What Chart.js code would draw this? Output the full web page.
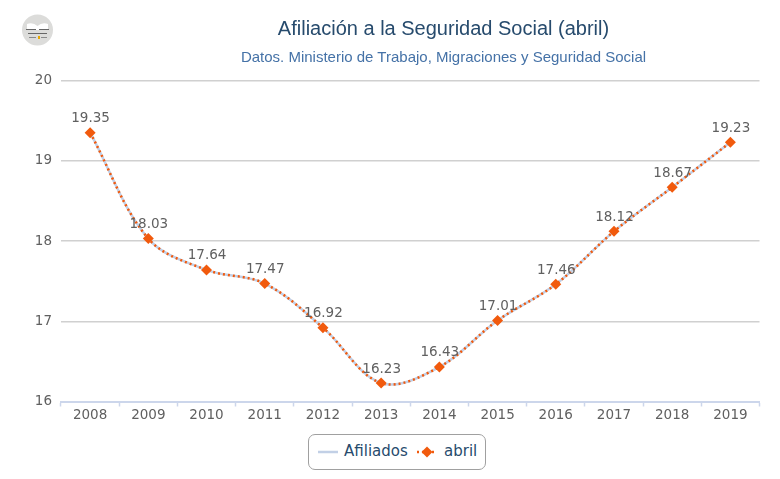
<!DOCTYPE html>
<html>
<head>
<meta charset="utf-8">
<title>Afiliación a la Seguridad Social (abril)</title>
<script src="https://cdn.jsdelivr.net/npm/chart.js@4/dist/chart.umd.min.js"></script>
<style>
  body { margin: 0; background: #fff; }
  #wrap { position: relative; width: 780px; height: 479px; overflow: hidden; }
  #wrap canvas { position: absolute; left: 0; top: 0; }
  .titulo { position: absolute; left: 0; width: 887px; text-align: center; font-family: "Liberation Sans", Arial, sans-serif; white-space: nowrap; }
  #t1 { top: 17px; font-size: 20px; color: #274b6d; }
  #t2 { top: 48px; font-size: 15px; color: #4572a7; }
  #leyenda { position: absolute; left: 308px; top: 434px; width: 176px; height: 34px; border: 1.5px solid #a0a0a0; border-radius: 7px; background: #fff;
    font: 15px "DejaVu Sans", sans-serif; color: #274b6d; }
  #leyenda svg { position: absolute; left: 0; top: 0; }
  #leyenda span { position: absolute; top: 7px; }
</style>
</head>
<body>
<div id="wrap">
  <canvas id="grafico" width="780" height="479"></canvas>
  <div class="titulo" id="t1">Afiliación a la Seguridad Social (abril)</div>
  <div class="titulo" id="t2">Datos. Ministerio de Trabajo, Migraciones y Seguridad Social</div>
  <div id="leyenda">
    <svg width="176" height="34">
      <line x1="9" y1="17" x2="29" y2="17" stroke="#c2d0e6" stroke-width="2.5"/>
      <line x1="108" y1="17" x2="128" y2="17" stroke="#f15a0d" stroke-width="2.5" stroke-dasharray="2,3"/>
      <path d="M118 11.5 L123.5 17 L118 22.5 L112.5 17 Z" fill="#f15a0d"/>
    </svg>
    <span style="left:35px">Afiliados</span>
    <span style="left:135px">abril</span>
  </div>
</div>
<script>
// Datos
var anios = ['2008', '2009', '2010', '2011', '2012', '2013', '2014', '2015', '2016', '2017', '2018', '2019'];
var afiliados = [19.35, 18.03, 17.64, 17.47, 16.92, 16.23, 16.43, 17.01, 17.46, 18.12, 18.67, 19.23];
var etiquetas = ['19.35', '18.03', '17.64', '17.47', '16.92', '16.23', '16.43', '17.01', '17.46', '18.12', '18.67', '19.23'];
var ticksY = [16, 17, 18, 19, 20];

// Etiquetas sobre cada punto
var pluginEtiquetas = {
  id: 'etiquetas',
  afterDatasetsDraw: function(chart) {
    var ctx = chart.ctx;
    var puntos = chart.getDatasetMeta(1).data;
    ctx.save();
    ctx.font = '13.5px "DejaVu Sans", sans-serif';
    ctx.fillStyle = '#606060';
    ctx.textAlign = 'center';
    ctx.textBaseline = 'middle';
    puntos.forEach(function(p, i) {
      ctx.fillText(etiquetas[i], p.x + 0.5, p.y - 14);
    });
    ctx.restore();
  }
};

// Logo de la esquina
var pluginLogo = {
  id: 'logo',
  afterDraw: function(chart) {
    var ctx = chart.ctx;
    ctx.save();
    ctx.fillStyle = '#dcdcda';
    ctx.beginPath();
    ctx.arc(37.5, 30, 15.5, 0, Math.PI * 2);
    ctx.fill();
    ctx.fillStyle = '#ffffff';
    ctx.beginPath();
    ctx.moveTo(27, 24);
    ctx.quadraticCurveTo(33, 22, 37.5, 26);
    ctx.quadraticCurveTo(42, 22, 48, 24);
    ctx.lineTo(48, 30);
    ctx.lineTo(27, 30);
    ctx.closePath();
    ctx.fill();
    ctx.fillStyle = '#666666';
    ctx.fillRect(26, 29, 10, 1);
    ctx.fillRect(39, 29, 10, 1);
    ctx.fillRect(28, 33, 19, 1);
    ctx.fillStyle = '#8a8a8a';
    ctx.fillRect(29, 37, 7, 1);
    ctx.fillRect(41, 37, 6, 1);
    ctx.fillStyle = '#e8a800';
    ctx.fillRect(38, 36, 2, 3);
    ctx.restore();
  }
};

var grafico = new Chart(document.getElementById('grafico'), {
  type: 'line',
  data: {
    labels: anios,
    datasets: [{
      label: 'Afiliados',
      data: afiliados,
      order: 2,
      borderColor: '#c2d0e6',
      borderWidth: 2.5,
      pointRadius: 0,
      tension: 0.35
    }, {
      label: 'abril',
      data: afiliados,
      order: 1,
      borderColor: '#f15a0d',
      backgroundColor: '#f15a0d',
      borderWidth: 2.5,
      borderDash: [2, 3],
      pointStyle: 'rectRot',
      pointRadius: 5.5,
      pointBorderWidth: 0,
      tension: 0.35
    }]
  },
  options: {
    responsive: false,
    animation: false,
    layout: { padding: { left: 0, right: 20.5, top: 80.5, bottom: 47.5 } },
    plugins: {
      legend: { display: false },
      title: { display: false },
      tooltip: { enabled: false }
    },
    scales: {
      x: {
        offset: true,
        afterFit: function(s) { s.height = 30; },
        border: { color: '#ccd6eb', width: 2 },
        grid: { offset: true, drawOnChartArea: false, color: '#ccd6eb', tickLength: 5, tickWidth: 1.5 },
        ticks: { color: '#606060', padding: 1, maxRotation: 0, font: { family: '"DejaVu Sans", sans-serif', size: 13.5 } }
      },
      y: {
        min: 16,
        max: 20,
        afterFit: function(s) { s.width = 61; },
        afterBuildTicks: function(s) { s.ticks = ticksY.map(function(v) { return { value: v }; }); },
        border: { display: false },
        grid: { color: '#d0d0d0', lineWidth: 1.5, drawTicks: false },
        ticks: { color: '#606060', padding: 9, font: { family: '"DejaVu Sans", sans-serif', size: 13.5 } }
      }
    }
  },
  plugins: [pluginEtiquetas, pluginLogo]
});
</script>
</body>
</html>
